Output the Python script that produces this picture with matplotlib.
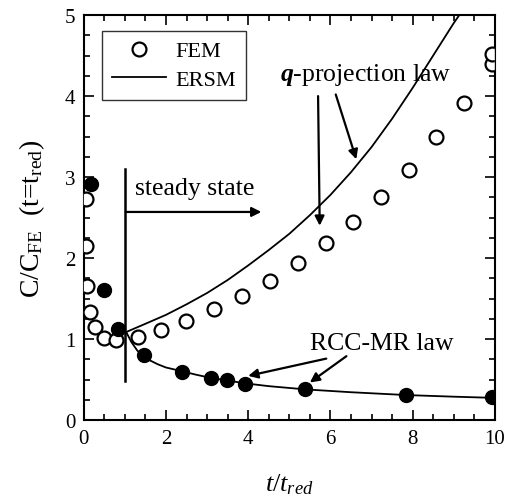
import numpy as np
import matplotlib.pyplot as plt
from matplotlib.path import Path
from matplotlib.ticker import MultipleLocator

plt.rcParams['font.family'] = 'Liberation Serif'
plt.rcParams['mathtext.fontset'] = 'custom'
plt.rcParams['mathtext.rm'] = 'Liberation Serif'
plt.rcParams['mathtext.it'] = 'Liberation Serif:italic'
plt.rcParams['mathtext.bf'] = 'Liberation Serif:bold'
plt.rcParams['mathtext.bfit'] = 'Liberation Serif:italic:bold'

# FEM results (open circles)
fem_t = [0.05, 0.05, 0.08, 0.16, 0.28, 0.49, 0.79, 1.31, 1.88, 2.48, 3.16, 3.85,
         4.53, 5.20, 5.89, 6.55, 7.24, 7.91, 8.58, 9.25, 9.92, 9.92]
fem_c = [2.73, 2.15, 1.65, 1.33, 1.15, 1.02, 0.99, 1.03, 1.11, 1.23, 1.37, 1.53,
         1.72, 1.94, 2.19, 2.45, 2.75, 3.09, 3.49, 3.91, 4.40, 4.52]

# FEM results following the RCC-MR law (filled circles)
rcc_t = [0.17, 0.49, 0.82, 1.46, 2.39, 3.10, 3.48, 3.92, 5.39, 7.85, 9.94]
rcc_c = [2.91, 1.61, 1.12, 0.80, 0.60, 0.52, 0.49, 0.45, 0.38, 0.31, 0.28]

# ERSM curves: q-projection branch and RCC-MR branch
q_t = [1.04, 1.5, 2.0, 2.5, 3.0, 3.5, 4.0, 4.5, 5.0, 5.5, 6.0, 6.5, 7.0, 7.5,
       8.0, 8.5, 9.0, 9.3]
q_c = [1.09, 1.19, 1.30, 1.43, 1.57, 1.73, 1.91, 2.10, 2.30, 2.53, 2.78, 3.06,
       3.37, 3.72, 4.10, 4.50, 4.90, 5.12]
r_t = [1.04, 1.15, 1.3, 1.44, 1.6, 1.8, 2.0, 2.34, 2.7, 3.1, 3.5, 3.92, 4.5,
       5.39, 6.5, 7.85, 9.0, 10.0]
r_c = [1.08, 0.97, 0.86, 0.79, 0.74, 0.69, 0.65, 0.61, 0.565, 0.52, 0.49, 0.455,
       0.42, 0.38, 0.345, 0.31, 0.29, 0.275]

fig = plt.figure(figsize=(5.08, 5.02), dpi=100)
ax = fig.add_axes([0.165, 0.161, 0.809, 0.807])

ersm, = ax.plot(q_t, q_c, color='k', lw=1.3, label='ERSM', zorder=2)
ax.plot(r_t, r_c, color='k', lw=1.3, zorder=2)
fem, = ax.plot(fem_t, fem_c, 'o', ms=10, mfc='white', mec='k', mew=1.6, label='FEM', zorder=3)
rcc, = ax.plot(rcc_t, rcc_c, 'o', ms=10, mfc='k', mec='k', zorder=3)
# cut the markers at the frame edge (a path clip, so marker pixels get trimmed)
fem.set_clip_path(Path.unit_rectangle(), ax.transAxes)
rcc.set_clip_path(Path.unit_rectangle(), ax.transAxes)

# steady state marker
ax.plot([1, 1], [0.485, 3.1], color='k', lw=1.8)

arrow = dict(arrowstyle='-|>', lw=1.6, color='k', mutation_scale=14, shrinkA=0, shrinkB=0)
ax.annotate('', xy=(4.32, 2.57), xytext=(1.02, 2.57), arrowprops=arrow)
ax.text(1.24, 2.79, 'steady state', fontsize=18.5)

ax.text(4.77, 4.20, r'$\mathbfit{q}$-projection law', fontsize=18.5)
ax.annotate('', xy=(5.74, 2.40), xytext=(5.70, 4.00), arrowprops=arrow)
ax.annotate('', xy=(6.63, 3.22), xytext=(6.13, 4.02), arrowprops=arrow)

ax.text(5.50, 0.88, 'RCC-MR law', fontsize=18.5)
ax.annotate('', xy=(4.00, 0.547), xytext=(5.90, 0.76), arrowprops=arrow)
ax.annotate('', xy=(5.50, 0.465), xytext=(6.39, 0.79), arrowprops=arrow)

ax.set_xlim(0, 10)
ax.set_ylim(0, 5)
ax.xaxis.set_major_locator(MultipleLocator(2))
ax.xaxis.set_minor_locator(MultipleLocator(0.5))
ax.yaxis.set_major_locator(MultipleLocator(1))
ax.yaxis.set_minor_locator(MultipleLocator(0.25))
ax.tick_params(which='both', direction='in', top=True, right=True, width=1.2, labelsize=15)
ax.tick_params(which='major', length=7, pad=6)
ax.tick_params(which='minor', length=4)
for s in ax.spines.values():
    s.set_linewidth(1.5)

ax.set_xlabel(r'$t/t_{red}$', fontsize=19, labelpad=17)
ax.set_ylabel(r'C/C$_{\rm FE}$  (t=t$_{\rm red}$)', fontsize=20, labelpad=13)

leg = ax.legend(handles=[fem, ersm], loc='upper left',
                bbox_to_anchor=(0.045, 0.961), borderaxespad=0, fontsize=16,
                fancybox=False, edgecolor='#333333', framealpha=1,
                handlelength=2.4, handletextpad=0.45, borderpad=0.45,
                labelspacing=0.35)
leg.get_frame().set_linewidth(1.0)

fig.savefig('out.png', dpi=100)
